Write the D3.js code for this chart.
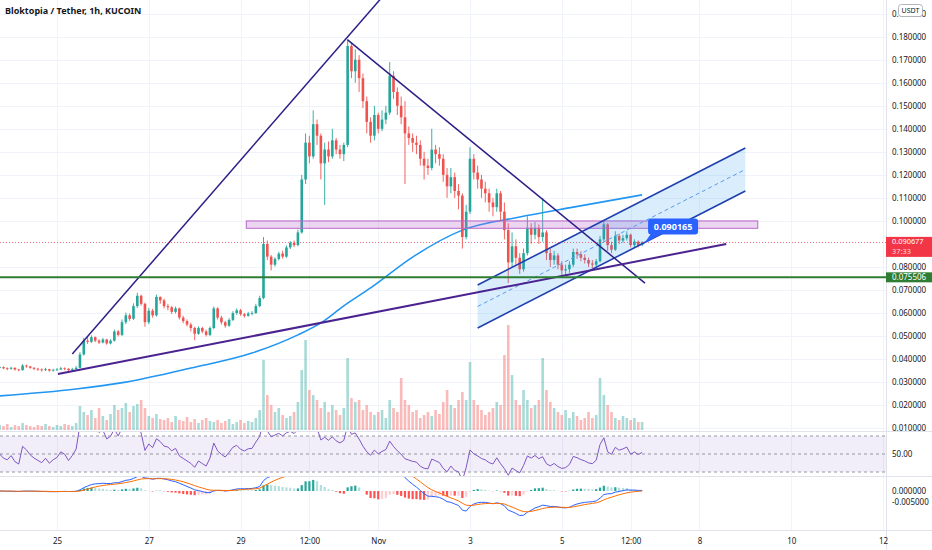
<!DOCTYPE html>
<html><head><meta charset="utf-8">
<script src="https://cdn.jsdelivr.net/npm/d3@7"></script>
<style>
body{margin:0;background:#fff;overflow:hidden}
svg{display:block}
text{font-family:"Noto Sans",Roboto,"Liberation Sans",sans-serif}
</style></head>
<body><svg id="c" width="932" height="550"></svg>
<script>
// ---------------- DATA ----------------
const title = "Bloktopia / Tether, 1h, KUCOIN";
const candleStart = "2021-10-23T18:00Z";
const candleHours = 2;
const firstOpen = 0.0362;
const closes = [
0.0365,0.0360,0.0358,0.0362,0.0355,0.0352,0.0372,0.0368,0.0362,0.0358,
0.0355,0.0352,0.0356,0.0350,0.0353,0.0355,0.0360,0.0358,0.0352,0.0356,
0.0362,0.0420,0.0480,0.0475,0.0495,0.0480,0.0472,0.0485,0.0468,0.0480,
0.0520,0.0505,0.0560,0.0590,0.0575,0.0630,0.0675,0.0640,0.0560,0.0610,
0.0590,0.0670,0.0655,0.0630,0.0625,0.0605,0.0620,0.0580,0.0565,0.0550,
0.0535,0.0510,0.0535,0.0520,0.0505,0.0535,0.0620,0.0580,0.0560,0.0545,
0.0570,0.0600,0.0612,0.0595,0.0588,0.0598,0.0600,0.0630,0.0665,0.0900,
0.0845,0.0810,0.0835,0.0858,0.0845,0.0885,0.0905,0.0895,0.0950,0.1180,
0.1340,0.1280,0.1420,0.1370,0.1250,0.1310,0.1280,0.1350,0.1310,0.1290,
0.1330,0.1760,0.1650,0.1700,0.1620,0.1520,0.1430,0.1370,0.1460,0.1400,
0.1440,0.1470,0.1630,0.1560,0.1500,0.1450,0.1380,0.1360,0.1340,0.1330,
0.1270,0.1240,0.1230,0.1310,0.1290,0.1270,0.1200,0.1150,0.1190,0.1130,
0.1110,0.0930,0.1040,0.1270,0.1210,0.1180,0.1140,0.1120,0.1080,0.1060,
0.1120,0.1040,0.0960,0.0820,0.0890,0.0840,0.0790,0.0860,0.0970,0.0940,
0.0970,0.0930,0.0950,0.0860,0.0830,0.0850,0.0810,0.0785,0.0790,0.0810,
0.0865,0.0855,0.0840,0.0830,0.0815,0.0810,0.0825,0.0920,0.0985,0.0895,
0.0875,0.0935,0.0915,0.0925,0.0940,0.0895,0.0910,0.0895,0.0907];
const highs = [
0.0372,0.0368,0.0364,0.0367,0.0364,0.0358,0.0378,0.0376,0.0370,0.0365,
0.0362,0.0360,0.0362,0.0358,0.0358,0.0361,0.0366,0.0364,0.0360,0.0362,
0.0370,0.0430,0.0492,0.0500,0.0503,0.0498,0.0486,0.0492,0.0488,0.0486,
0.0528,0.0526,0.0572,0.0602,0.0598,0.0642,0.0688,0.0680,0.0645,0.0622,
0.0618,0.0680,0.0672,0.0662,0.0640,0.0630,0.0628,0.0624,0.0588,0.0572,
0.0558,0.0540,0.0542,0.0540,0.0528,0.0542,0.0628,0.0625,0.0588,0.0566,
0.0578,0.0608,0.0620,0.0618,0.0600,0.0605,0.0608,0.0640,0.0675,0.0930,
0.0915,0.0852,0.0842,0.0866,0.0870,0.0893,0.0912,0.0915,0.0962,0.1200,
0.1380,0.1370,0.1480,0.1440,0.1380,0.1340,0.1345,0.1400,0.1360,0.1330,
0.1340,0.1790,0.1775,0.1745,0.1720,0.1640,0.1540,0.1450,0.1500,0.1470,
0.1480,0.1500,0.1690,0.1650,0.1580,0.1540,0.1520,0.1410,0.1380,0.1370,
0.1350,0.1300,0.1270,0.1400,0.1330,0.1320,0.1290,0.1230,0.1230,0.1210,
0.1160,0.1120,0.1070,0.1320,0.1290,0.1240,0.1200,0.1170,0.1140,0.1100,
0.1140,0.1130,0.1080,0.0990,0.0950,0.0920,0.0860,0.0880,0.1020,0.0990,
0.0995,0.0985,0.1100,0.0960,0.0880,0.0870,0.0860,0.0825,0.0810,0.0825,
0.0880,0.0880,0.0868,0.0855,0.0840,0.0830,0.0835,0.0935,0.1000,0.0990,
0.0910,0.0955,0.0945,0.0940,0.0955,0.0945,0.0920,0.0915,0.0912];
const lows = [
0.0358,0.0356,0.0352,0.0354,0.0350,0.0347,0.0350,0.0362,0.0358,0.0352,
0.0349,0.0346,0.0348,0.0345,0.0346,0.0349,0.0352,0.0352,0.0348,0.0349,
0.0354,0.0360,0.0415,0.0466,0.0470,0.0474,0.0465,0.0468,0.0462,0.0464,
0.0476,0.0498,0.0500,0.0552,0.0566,0.0570,0.0622,0.0632,0.0540,0.0552,
0.0580,0.0585,0.0640,0.0620,0.0612,0.0596,0.0598,0.0572,0.0556,0.0542,
0.0520,0.0482,0.0505,0.0512,0.0498,0.0500,0.0530,0.0572,0.0550,0.0536,
0.0540,0.0565,0.0592,0.0588,0.0580,0.0584,0.0590,0.0596,0.0625,0.0660,
0.0830,0.0785,0.0802,0.0828,0.0836,0.0840,0.0878,0.0886,0.0890,0.0945,
0.1160,0.1250,0.1270,0.1330,0.1180,0.1070,0.1255,0.1270,0.1290,0.1270,
0.1260,0.1320,0.1620,0.1600,0.1560,0.1490,0.1380,0.1340,0.1350,0.1380,
0.1390,0.1420,0.1460,0.1530,0.1460,0.1420,0.1160,0.1330,0.1300,0.1290,
0.1240,0.1180,0.1200,0.1220,0.1250,0.1240,0.1170,0.1100,0.1120,0.1100,
0.1050,0.0880,0.0920,0.1030,0.1180,0.1140,0.1100,0.1080,0.1040,0.1020,
0.1040,0.1000,0.0920,0.0730,0.0800,0.0810,0.0770,0.0780,0.0850,0.0900,
0.0920,0.0900,0.0910,0.0830,0.0800,0.0810,0.0790,0.0760,0.0765,0.0775,
0.0800,0.0835,0.0825,0.0815,0.0800,0.0795,0.0800,0.0820,0.0910,0.0870,
0.0860,0.0870,0.0900,0.0905,0.0915,0.0885,0.0885,0.0885,0.0890];
const volumes = [5,4,6,3,5,4,7,5,4,3,5,4,6,4,3,5,4,6,5,4,7,
24,18,15,20,12,22,14,10,16,
25,20,22,27,18,24,26,
30,22,14,12,16,11,10,
12,8,14,10,9,13,8,11,7,10,12,9,
8,10,7,9,11,6,8,10,7,9,8,12,20,
70,35,25,18,22,15,12,14,18,28,
60,90,40,35,30,22,28,18,25,20,15,22,
72,32,28,30,20,25,18,15,18,20,12,
30,22,18,52,30,25,18,20,12,15,18,
14,20,16,28,40,25,22,30,38,30,
68,30,25,20,15,18,22,28,25,
75,105,55,30,25,40,30,22,25,30,72,
40,28,22,18,15,20,12,18,14,10,12,18,12,15,
52,35,25,18,12,10,14,12,10,12,8,8];
// moving average (read at selected candle indices)
const maIndex = [0,20,33,50,66,78,84,90,97,108,121,136,150,168];
const maValue = [0.0240,0.0270,0.0300,0.0361,0.0426,0.0505,0.0557,0.0631,0.0709,0.0843,0.0960,0.1017,0.1060,0.1113];
// drawings: [time, price]
const risingLine  = [["2021-10-25T08:00Z",0.0422],["2021-11-01T03:00Z",0.1981]];
const fallingLine = [["2021-10-31T08:00Z",0.1786],["2021-11-06T19:30Z",0.0730]];
const supportLine = [["2021-10-25T00:30Z",0.0335],["2021-11-08T14:00Z",0.0900]];
const channelUpper = [["2021-11-03T04:00Z",0.0722],["2021-11-09T00:00Z",0.1317]];
const channelLower = [["2021-11-03T04:00Z",0.0535],["2021-11-09T00:00Z",0.1130]];
const zoneBox = {from:"2021-10-29T03:00Z", to:"2021-11-09T06:30Z", top:0.1000, bottom:0.0968};
const greenLevel = 0.075506;
const lastPrice = 0.090677;
const countdown = "37:33";
const calloutPrice = 0.090165;
const priceTicks = [0.01,0.02,0.03,0.04,0.05,0.06,0.07,0.08,0.10,0.11,0.12,0.13,0.14,0.15,0.16,0.17,0.18,0.19];
const rsiLevels = [70,50,30];
const rsiTicks = [50];
const macdTicks = [0,-0.005];
const timeTicks = ["2021-10-25T00:00Z","2021-10-27T00:00Z","2021-10-29T00:00Z","2021-10-30T12:00Z","2021-11-01T00:00Z","2021-11-03T00:00Z","2021-11-05T00:00Z","2021-11-06T12:00Z","2021-11-08T00:00Z","2021-11-10T00:00Z","2021-11-12T00:00Z"];
const timeLabels = ["25","27","29","12:00","Nov","3","5","12:00","8","10","12"];

// ---------------- LAYOUT ----------------
const W = 932, H = 550, axisX = 886;
const mainBot = 431.5, rsiTop = 432, rsiBot = 476, macdTop = 477, macdBot = 530;
const UP = "#26a69a", DOWN = "#ef5350";

const svg = d3.select("#c");
const defs = svg.append("defs");
function clip(id, y0, y1){ defs.append("clipPath").attr("id",id).append("rect").attr("x",0).attr("y",y0).attr("width",axisX).attr("height",y1-y0); }
clip("cMain",0,mainBot); clip("cRsi",rsiTop,rsiBot); clip("cMacd",macdTop,macdBot);

const t0 = new Date(candleStart).getTime();
const candles = closes.map((c,i)=>({
  t: new Date(t0 + i*candleHours*3600e3),
  o: i ? closes[i-1] : firstOpen, h: highs[i], l: lows[i], c, v: volumes[i]
}));

const x = d3.scaleUtc().domain([new Date("2021-10-25T00:00Z"), new Date("2021-11-12T00:00Z")]).range([57, 883]);
const y = d3.scaleLinear().domain([0.07, 0.18]).range([290, 36.7]);
const yVol = d3.scaleLinear().domain([0, 110]).range([430, 320]);
const yRsi = d3.scaleLinear().domain([30, 70]).range([472, 436]);
const yMacd = d3.scaleLinear().domain([-0.005, 0]).range([502.3, 491]);
const P = d => [x(new Date(d[0])), y(d[1])];

// ---------------- GRID ----------------
const grid = svg.append("g").attr("stroke","#f0f3fa").attr("stroke-width",1);
priceTicks.forEach(p=>{ if(y(p) < mainBot) grid.append("line").attr("x1",0).attr("x2",axisX).attr("y1",Math.round(y(p))+0.5).attr("y2",Math.round(y(p))+0.5); });
timeTicks.forEach(t=>{ const xx = Math.round(x(new Date(t)))+0.5; if(xx<axisX) grid.append("line").attr("x1",xx).attr("x2",xx).attr("y1",0).attr("y2",macdBot); });

// ---------------- MAIN PANE ----------------
const main = svg.append("g").attr("clip-path","url(#cMain)");
const bw = 2.6;
main.append("g").selectAll("rect").data(candles).join("rect")
  .attr("x",d=>x(d.t)-bw/2).attr("width",bw)
  .attr("y",d=>yVol(d.v)).attr("height",d=>yVol(0)-yVol(d.v))
  .attr("fill",d=>d.c>=d.o?"rgba(38,166,154,0.4)":"rgba(239,83,80,0.4)");

// MA line
const maPts = maIndex.map((k,j)=>({t:candles[k].t, v:maValue[j]}));
main.append("path").datum(maPts)
  .attr("d", d3.line().x(d=>x(d.t)).y(d=>y(d.v)).curve(d3.curveMonotoneX))
  .attr("fill","none").attr("stroke","#2196f3").attr("stroke-width",1.6);

// Candles
const cg = main.append("g");
cg.selectAll("line").data(candles).join("line")
  .attr("x1",d=>x(d.t)).attr("x2",d=>x(d.t)).attr("y1",d=>y(d.h)).attr("y2",d=>y(d.l))
  .attr("stroke",d=>d.c>=d.o?UP:DOWN).attr("stroke-width",0.9);
cg.selectAll("rect").data(candles).join("rect")
  .attr("x",d=>x(d.t)-1.3).attr("width",2.6)
  .attr("y",d=>y(Math.max(d.o,d.c))).attr("height",d=>Math.max(0.8,Math.abs(y(d.o)-y(d.c))))
  .attr("fill",d=>d.c>=d.o?UP:DOWN);

// Drawings
const dg = main.append("g");
dg.append("rect")
  .attr("x",x(new Date(zoneBox.from))).attr("width",x(new Date(zoneBox.to))-x(new Date(zoneBox.from)))
  .attr("y",y(zoneBox.top)).attr("height",y(zoneBox.bottom)-y(zoneBox.top))
  .attr("fill","rgba(186,104,200,0.28)").attr("stroke","#ba68c8").attr("stroke-width",1);
const cu = channelUpper.map(P), cl = channelLower.map(P);
dg.append("path").attr("d",`M${cu[0]}L${cu[1]}L${cl[1]}L${cl[0]}Z`).attr("fill","rgba(33,150,243,0.17)");
const mid = [[ (cu[0][0]+cl[0][0])/2, (cu[0][1]+cl[0][1])/2 ],[ (cu[1][0]+cl[1][0])/2, (cu[1][1]+cl[1][1])/2 ]];
dg.append("path").attr("d",d3.line()(mid)).attr("stroke","#5b9bea").attr("stroke-width",1).attr("stroke-dasharray","4,3").attr("fill","none");
[cu,cl].forEach(l=>dg.append("path").attr("d",d3.line()(l)).attr("stroke","#1e3fae").attr("stroke-width",1.6).attr("fill","none"));
dg.append("path").attr("d",d3.line()(risingLine.map(P))).attr("stroke","#2c1f87").attr("stroke-width",1.5).attr("fill","none");
dg.append("path").attr("d",d3.line()(fallingLine.map(P))).attr("stroke","#2c1f87").attr("stroke-width",1.5).attr("fill","none");
dg.append("path").attr("d",d3.line()(supportLine.map(P))).attr("stroke","#4b2391").attr("stroke-width",2).attr("fill","none");
dg.append("line").attr("x1",0).attr("x2",axisX).attr("y1",y(greenLevel)).attr("y2",y(greenLevel)).attr("stroke","#2e7d32").attr("stroke-width",2);
dg.append("line").attr("x1",0).attr("x2",axisX).attr("y1",Math.round(y(lastPrice))+0.5).attr("y2",Math.round(y(lastPrice))+0.5)
  .attr("stroke","#f23645").attr("stroke-width",1).attr("stroke-dasharray","1,2").attr("opacity",0.7);
// callout
const last = candles[candles.length-1];
const ax = x(last.t)+2, ay = y(calloutPrice);
const bx = ax+4, by = ay-25, bwid = 50, bh = 16;
dg.append("path").attr("d",`M${ax},${ay}L${bx+3},${by+bh-1}L${bx+14},${by+bh-1}Z`).attr("fill","#2962ff");
dg.append("rect").attr("x",bx).attr("y",by).attr("width",bwid).attr("height",bh).attr("rx",3).attr("fill","#2962ff");
dg.append("text").attr("x",bx+bwid/2).attr("y",by+bh/2+3.2).attr("text-anchor","middle")
  .attr("fill","#fff").attr("font-size",9).attr("font-weight",700).text(d3.format(".6f")(calloutPrice));

// ---------------- RSI ----------------
function rsiCalc(cl, n){
  const diffs = cl.map((v,i)=>i?v-cl[i-1]:0);
  const seed = d3.mean(diffs.slice(1,n+1).map(Math.abs))/2;
  let ag=seed, al=seed; const out=[];
  for(let i=0;i<cl.length;i++){
    const d=diffs[i], g=Math.max(d,0), l=Math.max(-d,0);
    if(i){ ag = ag + (g-ag)/n; al = al + (l-al)/n; }
    out.push(al===0?100:100-100/(1+ag/al));
  }
  return out;
}
const rsiVals = rsiCalc(closes, 9);
const rg = svg.append("g");
rg.append("rect").attr("x",0).attr("width",axisX).attr("y",yRsi(70)).attr("height",yRsi(30)-yRsi(70)).attr("fill","rgba(126,87,194,0.1)");
rsiLevels.forEach(l=>rg.append("line").attr("x1",0).attr("x2",axisX).attr("y1",yRsi(l)).attr("y2",yRsi(l))
  .attr("stroke","#9598a1").attr("stroke-width",1).attr("stroke-dasharray","3,3"));
rg.append("path").attr("clip-path","url(#cRsi)").datum(candles)
  .attr("d",d3.line().x(d=>x(d.t)).y((d,i)=>yRsi(rsiVals[i])))
  .attr("fill","none").attr("stroke","#7e57c2").attr("stroke-width",1);

// ---------------- MACD ----------------
function ema(arr, n){ const a=2/(n+1); const o=[]; arr.forEach((v,i)=>o.push(i?o[i-1]+(v-o[i-1])*a:v)); return o; }
const e1 = ema(closes,10), e2 = ema(closes,22);
const macd = e1.map((v,i)=>v-e2[i]);
const sig = ema(macd,7);
const hist = macd.map((v,i)=>v-sig[i]);
const mg = svg.append("g").attr("clip-path","url(#cMacd)");
mg.selectAll("rect").data(candles).join("rect")
  .attr("x",d=>x(d.t)-1.1).attr("width",2.2)
  .attr("y",(d,i)=>Math.min(yMacd(0),yMacd(hist[i]))).attr("height",(d,i)=>Math.abs(yMacd(hist[i])-yMacd(0)))
  .attr("fill",(d,i)=>{const h=hist[i], p=i?hist[i-1]:0; return h>=0?(h>=p?"#26a69a":"#b2dfdb"):(h<=p?"#ff5252":"#ffcdd2");});
mg.append("path").datum(candles).attr("d",d3.line().x(d=>x(d.t)).y((d,i)=>yMacd(macd[i])))
  .attr("fill","none").attr("stroke","#2962ff").attr("stroke-width",1);
mg.append("path").datum(candles).attr("d",d3.line().x(d=>x(d.t)).y((d,i)=>yMacd(sig[i])))
  .attr("fill","none").attr("stroke","#ff6d00").attr("stroke-width",1);

// ---------------- SEPARATORS ----------------
const sep = svg.append("g").attr("stroke","#e0e3eb").attr("stroke-width",1);
[mainBot, rsiBot+0.5, macdBot+0.5].forEach(v=>sep.append("line").attr("x1",0).attr("x2",W).attr("y1",v).attr("y2",v));
sep.append("line").attr("x1",axisX+0.5).attr("x2",axisX+0.5).attr("y1",0).attr("y2",H);

// ---------------- AXES ----------------
function styleAxis(g){ g.select(".domain").remove(); g.selectAll("text").attr("fill","#131722").attr("font-size",8).attr("font-family",'"Noto Sans",Roboto,sans-serif'); }
defs.append("clipPath").attr("id","axMainClip").append("rect").attr("x",0).attr("y",0).attr("width",60).attr("height",mainBot);
svg.append("g").attr("transform",`translate(${axisX},0)`).attr("clip-path","url(#axMainClip)")
  .call(d3.axisRight(y).tickValues(priceTicks).tickFormat(d3.format(".6f")).tickSize(0).tickPadding(6)).call(styleAxis);
svg.append("g").attr("transform",`translate(${axisX},0)`)
  .call(d3.axisRight(yRsi).tickValues(rsiTicks).tickFormat(d3.format(".2f")).tickSize(0).tickPadding(6)).call(styleAxis);
svg.append("g").attr("transform",`translate(${axisX},0)`)
  .call(d3.axisRight(yMacd).tickValues(macdTicks).tickFormat(d=>d3.format(".6f")(d).replace("−","-")).tickSize(0).tickPadding(6)).call(styleAxis);
svg.append("g").attr("transform",`translate(0,${macdBot+3})`)
  .call(d3.axisBottom(x).tickValues(timeTicks.map(t=>new Date(t))).tickFormat((d,i)=>timeLabels[i]).tickSize(0).tickPadding(5)).call(styleAxis);

// price tags on axis
function priceTag(p, fill, lines){
  const g = svg.append("g");
  const two = lines.length>1;
  const h = two ? 20 : 10;
  const top = two ? y(p)-5.5 : y(p)-h/2;
  g.append("rect").attr("x",axisX).attr("y",top).attr("width",W-axisX).attr("height",h).attr("fill",fill);
  lines.forEach((t,k)=>g.append("text").attr("x",axisX+6).attr("y",top+(two?7.6:7.5)+k*9.6)
    .attr("fill",k?"#ffd5d8":"#fff").attr("font-size",two?7.4:8).text(t));
}
priceTag(greenLevel,"#2e7d32",[d3.format(".6f")(greenLevel)]);
priceTag(lastPrice,"#f23645",[d3.format(".6f")(lastPrice), countdown]);

// USDT badge
svg.append("rect").attr("x",898.5).attr("y",4.5).attr("width",24).attr("height",12).attr("rx",3).attr("fill","#fff").attr("stroke","#b2b5be");
svg.append("text").attr("x",910.5).attr("y",13.3).attr("text-anchor","middle").attr("font-size",7).attr("fill","#131722").text("USDT");

// title
svg.append("text").attr("x",5).attr("y",14).attr("font-size",9).attr("font-weight",700).attr("fill","#131722").text(title);
</script></body></html>
